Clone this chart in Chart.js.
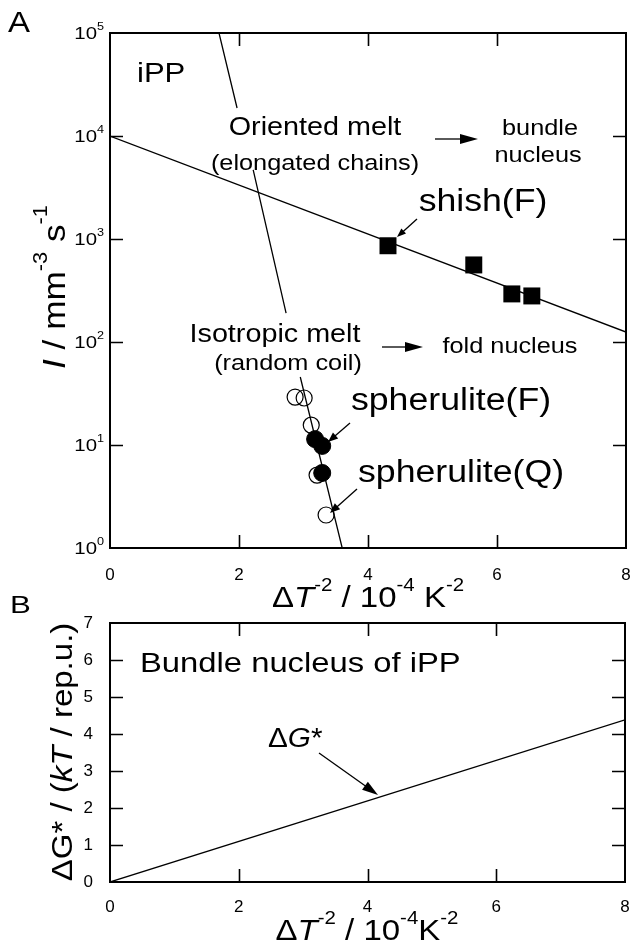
<!DOCTYPE html>
<html>
<head>
<meta charset="utf-8">
<script src="https://cdn.jsdelivr.net/npm/chart.js@4.4.0/dist/chart.umd.min.js"></script>
<style>
    html, body { margin: 0; padding: 0; background: #fff; overflow: hidden; }
    #wrap { position: relative; width: 630px; height: 945px; }
    canvas { position: absolute; left: 0; }
    #chartA { top: 0; }
    #chartB { top: 590px; }
</style>
</head>
<body>
<div id="wrap">
    <canvas id="chartA" width="630" height="625"></canvas>
    <canvas id="chartB" width="630" height="355"></canvas>
</div>
<script>
// Panel A : nucleation rate I vs dT^-2
const shishX = [4.31, 5.64, 6.23, 6.54];
const shishI = [860, 560, 293, 280];
const spheruliteFX = [3.18, 3.29, 3.29];
const spheruliteFI = [11.4, 9.8, 5.35];
const spheruliteQX = [2.87, 3.01, 3.12, 3.21, 3.35];
const spheruliteQI = [29.2, 28.6, 15.6, 5.1, 2.09];
// fitted lines (null = gap under the labels)
const orientedX = [0, 8];
const orientedI = [10000, 125];
const isotropicX = [1.69, 1.97, null, 2.22, 2.73, null, 2.95, 3.60];
const isotropicI = [100000, 18700, null, 4680, 191, null, 45.7, 1];
const decadesA = [1, 10, 100, 1000, 10000, 100000];

// Panel B : bundle nucleus barrier
const bundleX = [0, 8];
const bundleG = [0, 4.38];

const tickStepX = 2;
const FONT = '"Liberation Sans", Arial, sans-serif';

function pts(xs, ys) {
    return xs.map((x, i) => ({ x: x, y: ys[i] }));
}

// draw text made of parts: '~' prefix = italic, '^' prefix = superscript
function drawRich(ctx, parts, x, y, size, align, stretch) {
    ctx.save();
    ctx.translate(x, y);
    ctx.scale(stretch || 1, 1);
    ctx.textAlign = 'left';
    ctx.textBaseline = 'alphabetic';
    ctx.fillStyle = '#000';
    const segs = parts.map(p => {
        let t = p, sup = false, it = false;
        if (t[0] === '^') { sup = true; t = t.slice(1); }
        if (t[0] === '~') { it = true; t = t.slice(1); }
        const fs = sup ? size * 0.62 : size;
        const font = (it ? 'italic ' : '') + fs + 'px ' + FONT;
        ctx.font = font;
        return { t: t, font: font, w: ctx.measureText(t).width, dy: sup ? -size * 0.55 : 0 };
    });
    const total = segs.reduce((a, s) => a + s.w, 0);
    let cx = align === 'center' ? -total / 2 : (align === 'right' ? -total : 0);
    segs.forEach(s => {
        ctx.font = s.font;
        ctx.fillText(s.t, cx, s.dy);
        cx += s.w;
    });
    ctx.restore();
}

function drawRotated(ctx, parts, x, y, size, stretch) {
    ctx.save();
    ctx.translate(x, y);
    ctx.rotate(-Math.PI / 2);
    drawRich(ctx, parts, 0, 0, size, 'center', stretch);
    ctx.restore();
}

function arrow(ctx, x1, y1, x2, y2, head, half) {
    const a = Math.atan2(y2 - y1, x2 - x1);
    ctx.save();
    ctx.strokeStyle = '#000';
    ctx.fillStyle = '#000';
    ctx.lineWidth = 1.3;
    ctx.beginPath();
    ctx.moveTo(x1, y1);
    ctx.lineTo(x2 - Math.cos(a) * head * 0.8, y2 - Math.sin(a) * head * 0.8);
    ctx.stroke();
    ctx.translate(x2, y2);
    ctx.rotate(a);
    ctx.beginPath();
    ctx.moveTo(0, 0);
    ctx.lineTo(-head, -half);
    ctx.lineTo(-head, half);
    ctx.closePath();
    ctx.fill();
    ctx.restore();
}

// frame + inward ticks on all four sides
function frameAndTicks(chart, xTicks, yTicks) {
    const ctx = chart.ctx;
    const a = chart.chartArea;
    const xs = chart.scales.x, ys = chart.scales.y;
    ctx.save();
    ctx.strokeStyle = '#000';
    ctx.lineWidth = 1.6;
    xTicks.forEach(v => {
        const px = Math.round(xs.getPixelForValue(v)) + 0.5;
        ctx.beginPath();
        ctx.moveTo(px, a.bottom); ctx.lineTo(px, a.bottom - 13);
        ctx.moveTo(px, a.top); ctx.lineTo(px, a.top + 13);
        ctx.stroke();
    });
    yTicks.forEach(v => {
        const py = Math.round(ys.getPixelForValue(v)) + 0.5;
        ctx.beginPath();
        ctx.moveTo(a.left, py); ctx.lineTo(a.left + 13, py);
        ctx.moveTo(a.right, py); ctx.lineTo(a.right - 13, py);
        ctx.stroke();
    });
    ctx.lineWidth = 2;
    ctx.strokeRect(a.left, a.top, a.right - a.left, a.bottom - a.top);
    ctx.restore();
}

const panelA = {
    id: 'panelA',
    afterDraw(chart) {
        const ctx = chart.ctx;
        frameAndTicks(chart, [2, 4, 6], decadesA.slice(1, -1));
        // y tick labels 10^n
        const ys = chart.scales.y;
        decadesA.forEach(v => {
            const py = ys.getPixelForValue(v);
            drawRich(ctx, ['10', '^' + Math.round(Math.log10(v))], 104, py + 6, 17, 'right', 1.2);
        });
        // axis titles
        drawRich(ctx, ['Δ', '~T', '^-2', ' / 10', '^-4', ' K', '^-2'], 368, 607, 30, 'center', 1.1);
        drawRotated(ctx, ['~I', ' / mm', '^-3', ' s', '^-1'], 65, 287, 32, 1.1);
        drawRich(ctx, ['A'], 8, 32, 30, 'left', 1.1);
        // annotations
        drawRich(ctx, ['iPP'], 137, 82, 27, 'left', 1.15);
        drawRich(ctx, ['Oriented melt'], 315, 135, 25, 'center', 1.15);
        drawRich(ctx, ['(elongated chains)'], 315, 170, 22, 'center', 1.15);
        drawRich(ctx, ['bundle'], 540, 135, 22, 'center', 1.15);
        drawRich(ctx, ['nucleus'], 538, 162, 22, 'center', 1.15);
        arrow(ctx, 435, 139, 478, 139, 18, 5);
        drawRich(ctx, ['shish(F)'], 483, 211, 31, 'center', 1.15);
        arrow(ctx, 417, 219, 397, 237, 9, 3.5);
        drawRich(ctx, ['Isotropic melt'], 275, 342, 25, 'center', 1.15);
        drawRich(ctx, ['(random coil)'], 288, 370, 22, 'center', 1.15);
        drawRich(ctx, ['fold nucleus'], 510, 353, 22, 'center', 1.15);
        arrow(ctx, 382, 347, 423, 347, 18, 5);
        drawRich(ctx, ['spherulite(F)'], 451, 410, 31, 'center', 1.15);
        arrow(ctx, 350, 423, 328, 442, 10, 4);
        drawRich(ctx, ['spherulite(Q)'], 461, 482, 31, 'center', 1.15);
        arrow(ctx, 357, 489, 330, 513, 10, 4);
    }
};

const panelB = {
    id: 'panelB',
    afterDraw(chart) {
        const ctx = chart.ctx;
        frameAndTicks(chart, [2, 4, 6], [1, 2, 3, 4, 5, 6]);
        drawRich(ctx, ['Δ', '~T', '^-2', ' / 10', '^-4', 'K', '^-2'], 367, 350, 30, 'center', 1.1);
        drawRotated(ctx, ['ΔG* / (', '~kT', ' / rep.u.)'], 72, 162, 30, 1.1);
        drawRich(ctx, ['B'], 10, 23, 24, 'left', 1.3);
        drawRich(ctx, ['Bundle nucleus of iPP'], 140, 82, 28.5, 'left', 1.15);
        drawRich(ctx, ['Δ', '~G', '*'], 268, 157, 27, 'left', 1.1);
        arrow(ctx, 319, 163, 378, 205, 16, 5);
    }
};

const tickFont = { family: FONT, size: 17 };

// drop the label overhang padding so the plot frame sits where the figure has it
function noPad(s) {
    s.paddingLeft = 0; s.paddingRight = 0; s.paddingTop = 0; s.paddingBottom = 0;
}

new Chart(document.getElementById('chartA'), {
    type: 'scatter',
    data: {
        datasets: [{
            data: pts(shishX, shishI),
            pointStyle: 'rect', pointRadius: 12,
            backgroundColor: '#000', borderColor: '#000', borderWidth: 0
        }, {
            data: pts(spheruliteFX, spheruliteFI),
            pointStyle: 'circle', pointRadius: 8.5,
            backgroundColor: '#000', borderColor: '#000', borderWidth: 1
        }, {
            data: pts(spheruliteQX, spheruliteQI),
            pointStyle: 'circle', pointRadius: 8,
            backgroundColor: 'rgba(0,0,0,0)', borderColor: '#000', borderWidth: 1.2
        }, {
            type: 'line',
            data: pts(orientedX, orientedI),
            borderColor: '#000', borderWidth: 1.3, pointRadius: 0, fill: false
        }, {
            type: 'line',
            data: pts(isotropicX, isotropicI),
            borderColor: '#000', borderWidth: 1.3, pointRadius: 0, fill: false, spanGaps: false
        }]
    },
    options: {
        responsive: false,
        animation: false,
        devicePixelRatio: 1,
        layout: { autoPadding: false, padding: { top: 33, right: 4, left: 0, bottom: 0 } },
        plugins: { legend: { display: false }, tooltip: { enabled: false } },
        scales: {
            x: {
                type: 'linear', min: 0, max: 8,
                grid: { display: false }, border: { display: false },
                ticks: { stepSize: tickStepX, color: '#000', font: tickFont, padding: 9, maxRotation: 0 },
                afterFit: s => { s.height = 625 - 548; noPad(s); }
            },
            y: {
                type: 'logarithmic', min: 1, max: 100000,
                grid: { display: false }, border: { display: false },
                ticks: { display: false },
                afterFit: s => { s.width = 110; noPad(s); }
            }
        }
    },
    plugins: [panelA]
});

new Chart(document.getElementById('chartB'), {
    type: 'line',
    data: {
        datasets: [{
            data: pts(bundleX, bundleG),
            borderColor: '#000', borderWidth: 1.3, pointRadius: 0, fill: false
        }]
    },
    options: {
        responsive: false,
        animation: false,
        devicePixelRatio: 1,
        layout: { autoPadding: false, padding: { top: 33, right: 5, left: 0, bottom: 0 } },
        plugins: { legend: { display: false }, tooltip: { enabled: false } },
        scales: {
            x: {
                type: 'linear', min: 0, max: 8,
                grid: { display: false }, border: { display: false },
                ticks: { stepSize: tickStepX, color: '#000', font: tickFont, padding: 7, maxRotation: 0 },
                afterFit: s => { s.height = 355 - 292; noPad(s); }
            },
            y: {
                type: 'linear', min: 0, max: 7,
                grid: { display: false }, border: { display: false },
                ticks: { stepSize: 1, color: '#000', font: tickFont, padding: 9 },
                afterFit: s => { s.width = 110; noPad(s); }
            }
        }
    },
    plugins: [panelB]
});
</script>
</body>
</html>
